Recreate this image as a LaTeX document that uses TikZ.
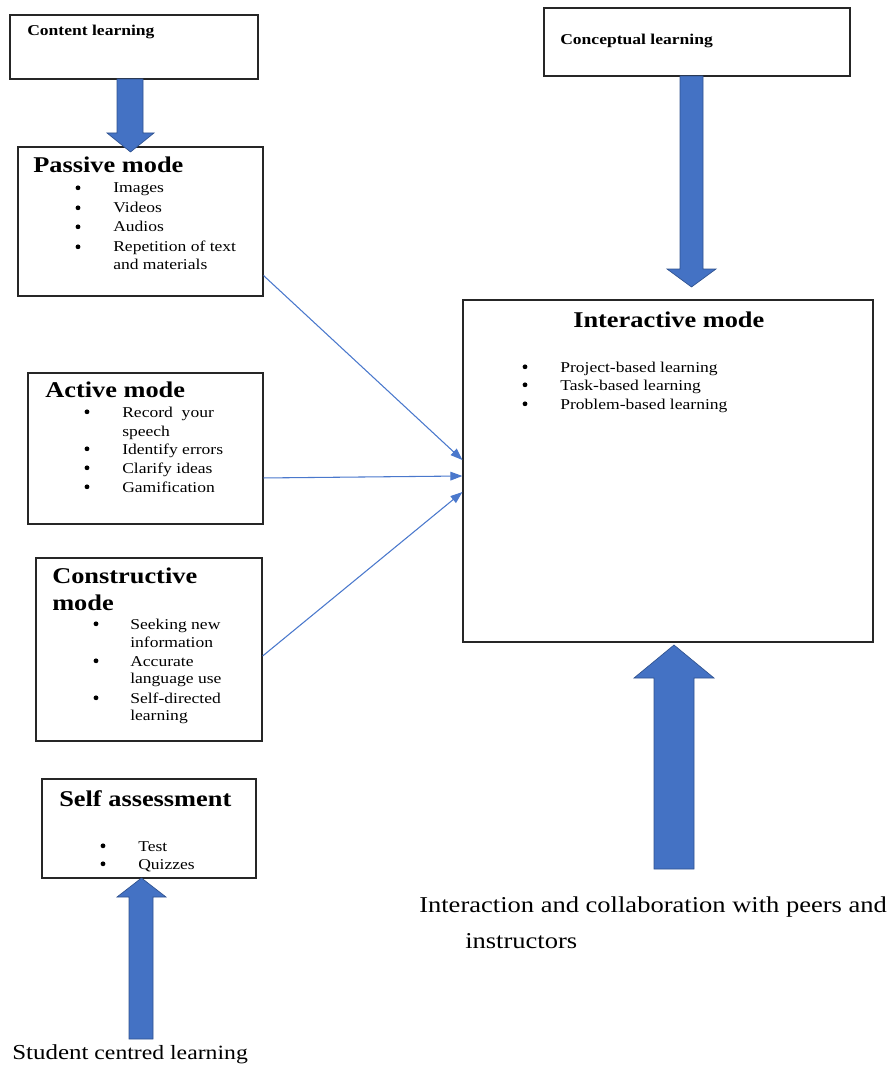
\documentclass[tikz,border=0pt]{standalone}
\usepackage{fontspec}
\setmainfont{Liberation Serif}
\usepackage{graphicx}
\usetikzlibrary{arrows.meta}
\definecolor{arrowblue}{HTML}{4472C4}
\definecolor{arrowedge}{HTML}{2F528F}
\definecolor{linkblue}{HTML}{4A78CC}
\newcommand{\sx}[1]{\scalebox{1.17}[1]{#1}}
\begin{document}
\begin{tikzpicture}[x=0.75pt,y=-0.75pt,
 box/.style={draw=black!85, line width=0.9pt, rectangle, inner sep=0pt},
 txt/.style={anchor=base west, inner sep=0pt, font=\fontsize{11.25}{13}\selectfont},
 bul/.style={circle, fill=black, inner sep=0pt, minimum size=3.6pt, yshift=3.9pt},
 ttl/.style={anchor=base west, inner sep=0pt, font=\fontsize{16.9}{20}\selectfont\bfseries},
 stl/.style={anchor=base west, inner sep=0pt, font=\fontsize{11.25}{13}\selectfont\bfseries},
 big/.style={anchor=base west, inner sep=0pt, font=\fontsize{17}{20}\selectfont},
 blk/.style={fill=arrowblue, draw=arrowedge, line width=0.5pt, line join=miter},
 link/.style={draw=linkblue, line width=0.8pt, -{Triangle[length=9pt,width=6.5pt]}}
]
\useasboundingbox (0,0) rectangle (887,1066);

% boxes
\node[box, minimum width=186pt, minimum height=48pt] (content) at (134,47) {};
\node[box, minimum width=183.75pt, minimum height=111.75pt] (passive) at (140.5,221.5) {};
\node[box, minimum width=176.25pt, minimum height=113.25pt] (active) at (145.5,448.5) {};
\node[box, minimum width=169.5pt, minimum height=137.25pt] (constructive) at (149,649.5) {};
\node[box, minimum width=160.5pt, minimum height=74.25pt] (selfassess) at (149,828.5) {};
\node[box, minimum width=229.5pt, minimum height=51pt] (conceptual) at (697,42) {};
\node[box, minimum width=307.5pt, minimum height=256.5pt] (interactive) at (668,471) {};

% content learning
\node[stl] (contentT) at (27,36) {\sx{Content learning}};

% passive
\node[ttl] (passiveT) at (33,173) {\sx{Passive mode}};
\node[bul] (pb1) at (78,193) {};
\node[bul] (pb2) at (78,213) {};
\node[bul] (pb3) at (78,232) {};
\node[bul] (pb4) at (78,252) {};
\node[txt] (p1) at (113,193) {\sx{Images}};
\node[txt] (p2) at (113,213) {\sx{Videos}};
\node[txt] (p3) at (113,232) {\sx{Audios}};
\node[txt] (p4) at (113,252) {\sx{Repetition of text}};
\node[txt] (p5) at (113,269) {\sx{and materials}};

% active
\node[ttl] (activeT) at (45,397) {\sx{Active mode}};
\node[bul] (ab1) at (87,417) {};
\node[bul] (ab2) at (87,454) {};
\node[bul] (ab3) at (87,473) {};
\node[bul] (ab4) at (87,492) {};
\node[txt] (a1) at (122,417) {\sx{Record\ \ your}};
\node[txt] (a2) at (122,436) {\sx{speech}};
\node[txt] (a3) at (122,454) {\sx{Identify errors}};
\node[txt] (a4) at (122,473) {\sx{Clarify ideas}};
\node[txt] (a5) at (122,492) {\sx{Gamification}};

% constructive
\node[ttl] (consT1) at (52,583) {\sx{Constructive}};
\node[ttl] (consT2) at (52,610) {\sx{mode}};
\node[bul] (cb1) at (96,629) {};
\node[bul] (cb2) at (96,666) {};
\node[bul] (cb3) at (96,703) {};
\node[txt] (c1) at (130,629) {\sx{Seeking new}};
\node[txt] (c2) at (130,647) {\sx{information}};
\node[txt] (c3) at (130,666) {\sx{Accurate}};
\node[txt] (c4) at (130,683) {\sx{language use}};
\node[txt] (c5) at (130,703) {\sx{Self-directed}};
\node[txt] (c6) at (130,720) {\sx{learning}};

% self assessment
\node[ttl] (selfT) at (59,806) {\sx{Self assessment}};
\node[bul] (sb1) at (103,851) {};
\node[bul] (sb2) at (103,869) {};
\node[txt] (s1) at (138,851) {\sx{Test}};
\node[txt] (s2) at (138,869) {\sx{Quizzes}};

% conceptual
\node[stl] (conceptualT) at (560,45) {\sx{Conceptual learning}};

% interactive
\node[ttl] (interT) at (573,327) {\sx{Interactive mode}};
\node[bul] (ib1) at (525,372) {};
\node[bul] (ib2) at (525,390) {};
\node[bul] (ib3) at (525,409) {};
\node[txt] (i1) at (560,372) {\sx{Project-based learning}};
\node[txt] (i2) at (560,390) {\sx{Task-based learning}};
\node[txt] (i3) at (560,409) {\sx{Problem-based learning}};

% bottom labels
\node[big] (collab1) at (419,912) {\sx{Interaction and collaboration with peers and}};
\node[big] (collab2) at (465,948) {\sx{instructors}};
\node[anchor=base west, inner sep=0pt, font=\fontsize{15.2}{18}\selectfont] (student) at (12,1059)
  {\sx{{\fontsize{16}{18}\selectfont Student} centred learning}};

% block arrows
\draw[blk] (117,79) -- (143,79) -- (143,133) -- (154,133) -- (130.5,152) -- (107,133) -- (117,133) -- cycle;
\draw[blk] (680,76) -- (703,76) -- (703,269) -- (716,269) -- (691.5,287) -- (667,269) -- (680,269) -- cycle;
\draw[blk] (654,869) -- (694,869) -- (694,678) -- (714,678) -- (674,645) -- (634,678) -- (654,678) -- cycle;
\draw[blk] (129,1039) -- (153,1039) -- (153,897) -- (166,897) -- (141.5,878) -- (117,897) -- (129,897) -- cycle;

% thin connectors
\draw[link] ([yshift=15.75pt]passive.south east) -- ([yshift=8.25pt]interactive.west);
\draw[link] ([yshift=-22.1pt]active.east) -- ([yshift=-3.75pt]interactive.west);
\draw[link] ([yshift=-4.9pt]constructive.east) -- ([yshift=-15.75pt]interactive.west);
\end{tikzpicture}
\end{document}
